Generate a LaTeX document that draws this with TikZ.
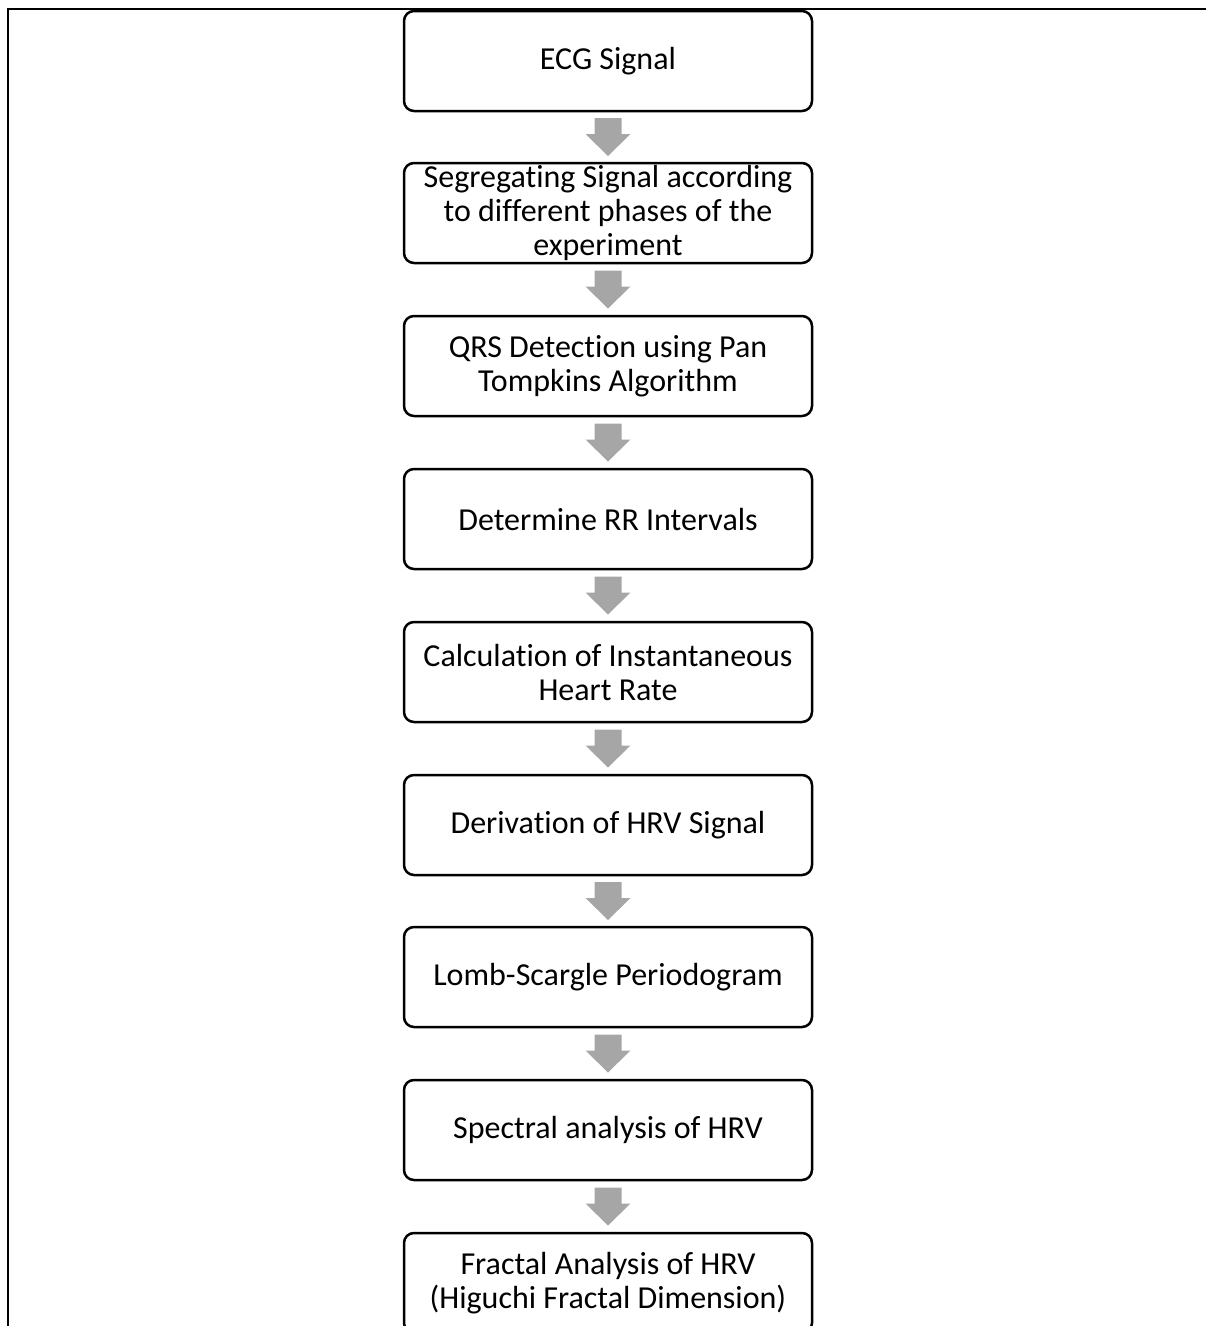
\documentclass[tikz,border=0pt]{standalone}
\usepackage{fontspec}
\setmainfont[Ligatures=NoCommon]{Carlito}
\usetikzlibrary{calc}
\tikzset{
  stagebox/.style={draw, line width=2.5pt, rounded corners=10pt,
    minimum width=408pt, minimum height=100pt, inner sep=0pt,
    align=center, font=\fontsize{32}{34}\selectfont},
  flowarrow/.style={fill=black!35, draw=none}
}
% grey block arrow centred between two stacked boxes
\newcommand{\blockarrow}[2]{%
  \fill[flowarrow] ($(#1.south)!0.5!(#2.north)$)
    ++(-13.5,-19) -- ++(27,0) -- ++(0,16) -- ++(9,0)
    -- ++(-22.5,22) -- ++(-22.5,-22) -- ++(9,0) -- cycle;}
\begin{document}
\begin{tikzpicture}[x=1pt,y=-1pt]
\useasboundingbox (0,0) rectangle (1206,1326);
\clip (0,0) rectangle (1206,1326);
% outer frame: left edge and top edge only
\draw[line width=2pt] (8,1330) -- (8,9) -- (1210,9);

\node[stagebox] (n1) at (608,61)   {ECG Signal};
\node[stagebox] (n2) at (608,213)  {Segregating Signal according\\to different phases of the\\experiment};
\node[stagebox] (n3) at (608,366)  {QRS Detection using Pan\\Tompkins Algorithm};
\node[stagebox] (n4) at (608,519)  {Determine RR Intervals};
\node[stagebox] (n5) at (608,672)  {Calculation of Instantaneous\\Heart Rate};
\node[stagebox] (n6) at (608,825)  {Derivation of HRV Signal};
\node[stagebox] (n7) at (608,977)  {Lomb-Scargle Periodogram};
\node[stagebox] (n8) at (608,1130) {Spectral analysis of HRV};
\node[stagebox] (n9) at (608,1283) {Fractal Analysis of HRV\\(Higuchi Fractal Dimension)};

\blockarrow{n1}{n2}
\blockarrow{n2}{n3}
\blockarrow{n3}{n4}
\blockarrow{n4}{n5}
\blockarrow{n5}{n6}
\blockarrow{n6}{n7}
\blockarrow{n7}{n8}
\blockarrow{n8}{n9}
\end{tikzpicture}
\end{document}
